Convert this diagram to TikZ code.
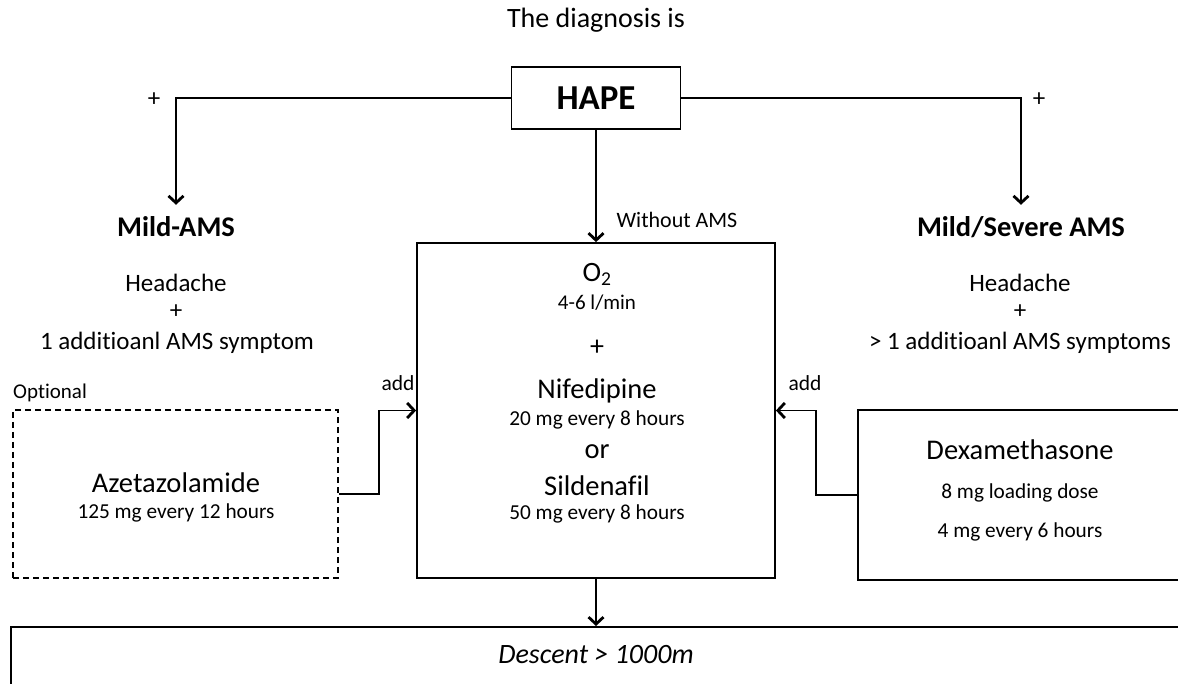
\documentclass[tikz,border=0pt]{standalone}
\usepackage{fontspec}
\setmainfont{Carlito}[Ligatures=NoCommon]
\usetikzlibrary{arrows.meta,calc}
\newcommand\fsz[1]{\fontsize{#1pt}{#1pt}\selectfont}
\tikzset{
  box/.style={draw, line width=1.8pt, inner sep=0pt},
  dbox/.style={draw, line width=1.8pt, dash pattern=on 6pt off 4pt, inner sep=0pt},
  conn/.style={line width=1.8pt, -{Straight Barb[length=7pt,width=15pt,line width=2.8pt]}},
  txt/.style={inner sep=0pt, align=center},
  head/.style={inner sep=12pt, text height=20pt, text depth=0pt},
}
\begin{document}
\begin{tikzpicture}[x=1pt,y=-1pt]
\clip (0,0) rectangle (1178,684);
\fill[white] (0,0) rectangle (1178,684);
% title
\node[txt] (title) at (596,20) {\fsz{28}The diagnosis is};
% HAPE
\node[box, minimum width=169pt, minimum height=62pt] (hape) at (596,98) {\fsz{35}\bfseries HAPE};
\node[txt] (plusl) at (154,100) {\fsz{25}+};
\node[txt] (plusr) at (1039,100) {\fsz{25}+};
% side headings
\node[head] (mild) at (176,227) {\fsz{28.5}\bfseries Mild-AMS};
\node[head] (severe) at (1021,227) {\fsz{28.5}\bfseries Mild/Severe AMS};
\node[txt] (mildh) at (176,283) {\fsz{25}Headache};
\node[txt] (mildp) at (176,312) {\fsz{25}+};
\node[txt] (milds) at (177,343) {\fsz{25}1 additioanl AMS symptom};
\node[txt] (sevh) at (1020,283) {\fsz{25}Headache};
\node[txt] (sevp) at (1020,312) {\fsz{25}+};
\node[txt] (sevs) at (1020,343) {\fsz{25}> 1 additioanl AMS symptoms};
% central box
\node[box, minimum width=358pt, minimum height=335pt] (center) at (596,410.5) {};
\node[txt] (woams) at (677,220) {\fsz{22}Without AMS};
\node[txt] (otwo) at (597,274) {\fsz{28}O\textsubscript{2}};
\node[txt] (orate) at (597,303) {\fsz{21}4-6 l/min};
\node[txt] (cplus) at (597,348) {\fsz{28}+};
\node[txt] (nife) at (597,391) {\fsz{28.5}Nifedipine};
\node[txt] (nifed) at (597,420) {\fsz{21.3}20 mg every 8 hours};
\node[txt] (cor) at (597,452) {\fsz{28.5}or};
\node[txt] (silde) at (597,486) {\fsz{28.5}Sildenafil};
\node[txt] (sildd) at (597,514) {\fsz{21.3}50 mg every 8 hours};
% left dashed box
\node[dbox, minimum width=325pt, minimum height=168pt] (azeta) at (175.5,494) {};
\node[txt, anchor=west] (opt) at (13,393) {\fsz{21}Optional};
\node[txt] (azname) at (176,483) {\fsz{28.5}Azetazolamide};
\node[txt] (azdose) at (176,513) {\fsz{21.3}125 mg every 12 hours};
\node[txt] (addl) at (398,383) {\fsz{21.5}add};
% right box
\node[box, minimum width=340pt, minimum height=170pt] (dexa) at (1028,495) {};
\node[txt] (dxname) at (1020,450) {\fsz{28.5}Dexamethasone};
\node[txt] (dxload) at (1020,493) {\fsz{21.3}8 mg loading dose};
\node[txt] (dxmain) at (1020,532) {\fsz{21.3}4 mg every 6 hours};
\node[txt] (addr) at (805,383) {\fsz{21.5}add};
% bottom box
\node[box, minimum width=1190pt, minimum height=110pt, anchor=north west] (desc) at (10,626) {};
\node[txt] (desctext) at (596,655) {\fsz{28}\itshape Descent > 1000m};
% connectors
\draw[conn] (hape.west) -| (mild.north);
\draw[conn] (hape.east) -| (severe.north);
\draw[conn] (hape.south) -- (center.north -| hape.south);
\draw[conn] (azeta.east) -- ++(40,0) |- (center.west);
\draw[conn] (dexa.west) -- ++(-41,0) |- (center.east);
\draw[conn] (center.south) -- (center.south |- desc.north);
\end{tikzpicture}
\end{document}
